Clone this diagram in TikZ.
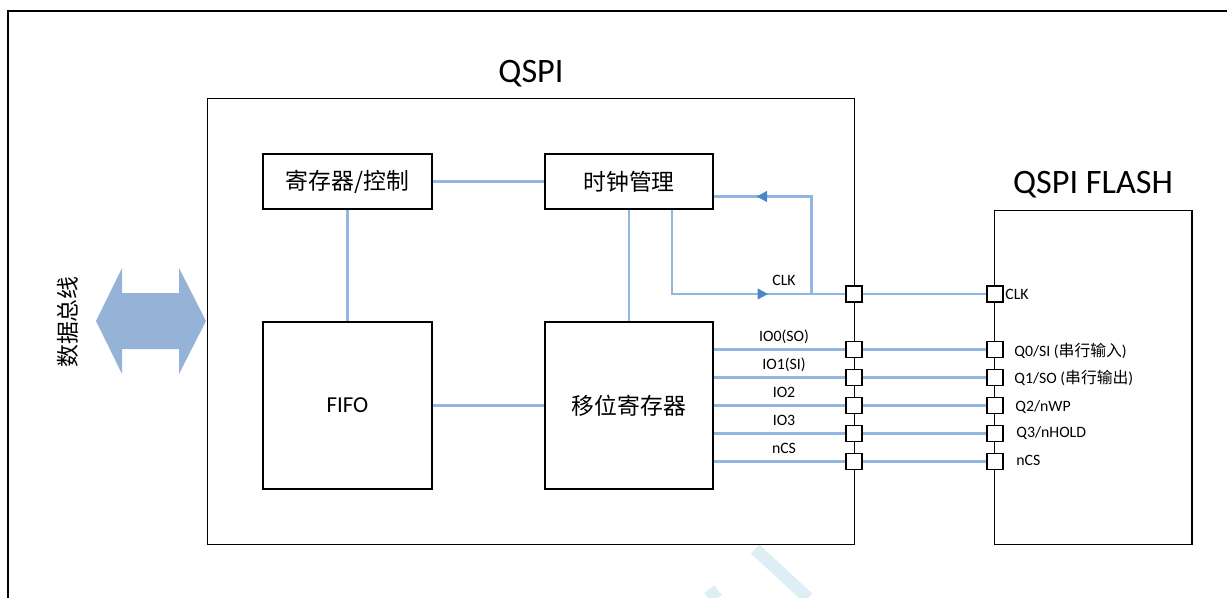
\documentclass[tikz,border=0pt]{standalone}
\usepackage{fontspec}
\setmainfont{Carlito}
\newfontfamily\cjk{Noto Sans CJK SC}
\usetikzlibrary{
    arrows.meta,         % arrow tips
    calc,                % coordinate calculations
    positioning,         % relative placement
    decorations.markings % arrows along paths
}
\definecolor{sigblue}{RGB}{145,182,226}
\definecolor{arrowblue}{RGB}{74,134,200}
\definecolor{busblue}{RGB}{149,179,215}
\definecolor{markcyan}{RGB}{221,239,244}

\begin{document}
\begin{tikzpicture}[
    x=0.02cm, y=-0.02cm,
    >={Triangle[length=6pt, width=6pt, color=arrowblue]}, % blue arrow tips
    block/.style={draw, line width=0.6pt, inner sep=0pt, font=\cjk\fontsize{13}{15}\selectfont},
    title/.style={anchor=base, inner sep=0pt, font=\fontsize{19.5}{22}\selectfont},
    pin/.style={draw, fill=white, line width=0.6pt, minimum size=0.32cm, inner sep=0pt},
    sig/.style={draw=sigblue, line width=1.25pt},
    siglabel/.style={anchor=base, inner sep=0pt, font=\fontsize{9}{10}\selectfont},
    pinlabel/.style={anchor=base west, inner sep=0pt, font=\fontsize{9}{10}\selectfont},
    midarrow/.style={
        decoration={markings, mark=at position #1 with {\arrow{>}}},
        postaction={decorate}
    }
]
    \useasboundingbox (0,0) rectangle (1227,598);

    % Outer frame
    \draw[line width=1.7pt] (8,598) -- (8,11) -- (1227,11);

    % Watermark strokes
    \draw[markcyan, line width=7pt] (755,549) -- (808,598);
    \draw[markcyan, line width=7pt] (718,590) -- (708,598);

    % Data bus
    \fill[busblue] (96,321) -- (122,268) -- (122,293) -- (179,293) -- (179,268)
        -- (206,321) -- (179,374) -- (179,349) -- (122,349) -- (122,374) -- cycle;
    \node[rotate=90, font=\cjk\fontsize{13}{15}\selectfont] (buslabel) at (68,322) {数据总线};

    % QSPI controller
    \node[draw, line width=0.6pt, minimum width=12.96cm, minimum height=8.94cm] (qspi) at (531,321.5) {};
    \node[title] (qspititle) at (531,83) {QSPI};

    \node[block, minimum width=3.38cm, minimum height=1.10cm] (reg)   at (347.5,181.5) {寄存器/控制};
    \node[block, minimum width=3.36cm, minimum height=1.10cm] (clkm)  at (629,181.5)   {时钟管理};
    \node[block, minimum width=3.38cm, minimum height=3.34cm, font=\fontsize{13}{15}\selectfont] (fifo) at (347.5,405.5) {FIFO};
    \node[block, minimum width=3.36cm, minimum height=3.34cm] (shift) at (629,405.5)   {移位寄存器};

    % QSPI flash
    \node[draw, line width=0.6pt, minimum width=3.96cm, minimum height=6.70cm] (flash) at (1093,377.5) {};
    \node[title] (flashtitle) at (1093,194) {QSPI FLASH};

    % Internal links
    \draw[sig] (reg.east) -- (clkm.west);
    \draw[sig] (reg.south) -- (fifo.north);
    \draw[sig] (fifo.east) -- (shift.west);
    \draw[sig] (clkm.south) -- (shift.north);

    % Pins
    \foreach \nm/\yy in {clk/294, io0/349.5, io1/377.5, io2/405.5, io3/433.5, cs/461.5} {
        \node[pin] (q\nm) at (854,\yy) {};
        \node[pin] (f\nm) at (995,\yy) {};
    }

    % Clock out and feedback
    \coordinate (fbtap) at ($(qclk.west)+(-34,0)$);
    \coordinate (fbin) at ($(clkm.south east)+(0,-13)$);
    \draw[sig, midarrow=0.7] ($(clkm.south)+(43,0)$) |- (qclk.west);
    \draw[sig, midarrow=0.78] (fbtap) |- (fbin);
    \draw[sig] (qclk.east) -- (fclk.west);

    % Data lines
    \foreach \nm in {io0, io1, io2, io3, cs} {
        \draw[sig] (shift.east |- q\nm) -- (q\nm.west);
        \draw[sig] (q\nm.east) -- (f\nm.west);
    }

    % Signal labels
    \node[siglabel] (lclk) at (784,285) {CLK};
    \node[siglabel] (lio0) at (784,341) {IO0(SO)};
    \node[siglabel] (lio1) at (784,369) {IO1(SI)};
    \node[siglabel] (lio2) at (784,397) {IO2};
    \node[siglabel] (lio3) at (784,425) {IO3};
    \node[siglabel] (lcs)  at (784,453) {nCS};

    \node[pinlabel] (fclklabel) at (1005,299) {CLK};
    \node[pinlabel] (fio0label) at (1014,356) {Q0/SI ({\cjk 串行输入})};
    \node[pinlabel] (fio1label) at (1014,383) {Q1/SO ({\cjk 串行输出})};
    \node[pinlabel] (fio2label) at (1015,411) {Q2/nWP};
    \node[pinlabel] (fio3label) at (1016,437) {Q3/nHOLD};
    \node[pinlabel] (fcslabel)  at (1016,465) {nCS};

\end{tikzpicture}
\end{document}
